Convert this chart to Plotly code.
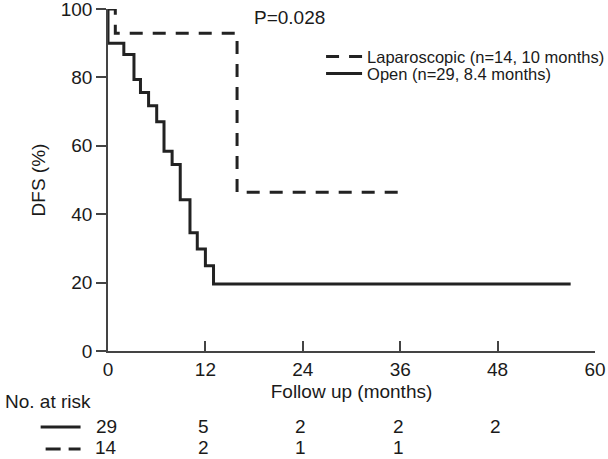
import plotly.graph_objects as go

# Kaplan-Meier step data (months, DFS %)
open_t = [0, 0, 1.95, 3.2, 4.0, 5.0, 6.0, 6.9, 7.9, 8.9, 10.1, 11.0, 12.0, 13.0, 57]
open_s = [100, 90, 86.7, 79.4, 75.6, 71.7, 67.0, 58.4, 54.5, 44.2, 34.6, 29.8, 24.9, 19.6, 19.6]
lap_t = [0, 0.9, 15.9, 36]
lap_s = [100, 92.9, 46.4, 46.4]

risk_times = [0, 12, 24, 36, 48]
risk_open = ["29", "5", "2", "2", "2"]
risk_lap = ["14", "2", "1", "1", ""]

x_ticks = [0, 12, 24, 36, 48, 60]
y_ticks = [0, 20, 40, 60, 80, 100]

FONT = "Liberation Sans, Arial, Helvetica, sans-serif"
INK = "#1a1a1a"
FS = 19
LFS = 16.5

L, R, T, B = 107.5, 12.5, 9.4, 108
W, H = 608, 459
pw = W - L - R
ph = H - T - B

def px_x(p):
    return (p - L) / pw

def px_y(p):
    return (H - B - p) / ph

fig = go.Figure()
fig.add_trace(go.Scatter(
    x=lap_t, y=lap_s, mode="lines", line_shape="hv",
    name="Laparoscopic (n=14, 10 months)", legend="legend",
    line=dict(color="#222222", width=3, dash="13px,10px"), cliponaxis=False))
fig.add_trace(go.Scatter(
    x=open_t, y=open_s, mode="lines", line_shape="hv",
    name="Open (n=29, 8.4 months)", legend="legend2",
    line=dict(color="#222222", width=3), cliponaxis=False))

ROW1, ROW2 = 426, 447

annotations = [
    dict(text="P=0.028", x=px_x(252), y=px_y(18), xref="paper", yref="paper",
         xanchor="left", yanchor="middle", showarrow=False, font=dict(size=FS, color=INK)),
    dict(text="No. at risk", x=px_x(2), y=px_y(401), xref="paper", yref="paper",
         xanchor="left", yanchor="middle", showarrow=False, font=dict(size=FS, color=INK)),
]
for t, a, b in zip(risk_times, risk_open, risk_lap):
    annotations.append(dict(text=a, x=t, y=px_y(ROW1), xref="x", yref="paper",
                            xanchor="center", yanchor="middle", xshift=-2, showarrow=False,
                            font=dict(size=FS, color=INK)))
    if b:
        annotations.append(dict(text=b, x=t, y=px_y(ROW2), xref="x", yref="paper",
                                xanchor="center", yanchor="middle", xshift=-2, showarrow=False,
                                font=dict(size=FS, color=INK)))

shapes = [
    dict(type="line", xref="paper", yref="paper", x0=px_x(40), x1=px_x(80),
         y0=px_y(ROW1 + 1), y1=px_y(ROW1 + 1), line=dict(color="#222222", width=3)),
    dict(type="line", xref="paper", yref="paper", x0=px_x(45), x1=px_x(80),
         y0=px_y(ROW2 + 2), y1=px_y(ROW2 + 2), line=dict(color="#222222", width=3, dash="15px,8px")),
]

legend_common = dict(xanchor="left", yanchor="middle", bgcolor="rgba(0,0,0,0)",
                     borderwidth=0, font=dict(size=LFS, color=INK), itemwidth=36)

fig.update_layout(
    width=W, height=H,
    margin=dict(l=L, r=R, t=T, b=B, pad=0, autoexpand=False),
    paper_bgcolor="white", plot_bgcolor="white",
    font=dict(family=FONT, size=FS, color=INK),
    showlegend=True,
    legend=dict(x=px_x(321), y=px_y(57), **legend_common),
    legend2=dict(x=px_x(321), y=px_y(74), **legend_common),
    annotations=annotations,
    shapes=shapes,
    xaxis=dict(range=[0, 60], tickvals=x_ticks, ticks="inside", ticklen=10,
               tickwidth=1.5, tickcolor="#444", showline=True, linecolor="#444",
               linewidth=1.5, showgrid=False, zeroline=False, automargin=False,
               ticklabeloverflow="allow",
               tickfont=dict(size=FS, color=INK),
               title=dict(text="Follow up (months)", standoff=6, font=dict(size=FS, color=INK))),
    yaxis=dict(range=[0, 100], tickvals=y_ticks, ticks="outside", ticklen=10,
               tickwidth=1.5, tickcolor="#444", showline=True, linecolor="#444",
               linewidth=1.5, showgrid=False, zeroline=False, automargin=False,
               ticklabeloverflow="allow",
               tickfont=dict(size=FS, color=INK),
               title=dict(text="DFS (%)", standoff=10, font=dict(size=FS, color=INK))),
)

# remove the browser's default 8px body margin so the figure sits at the page origin
fig.write_html("out.html", config={"displayModeBar": False},
               post_script="document.body.style.margin='0px';")
